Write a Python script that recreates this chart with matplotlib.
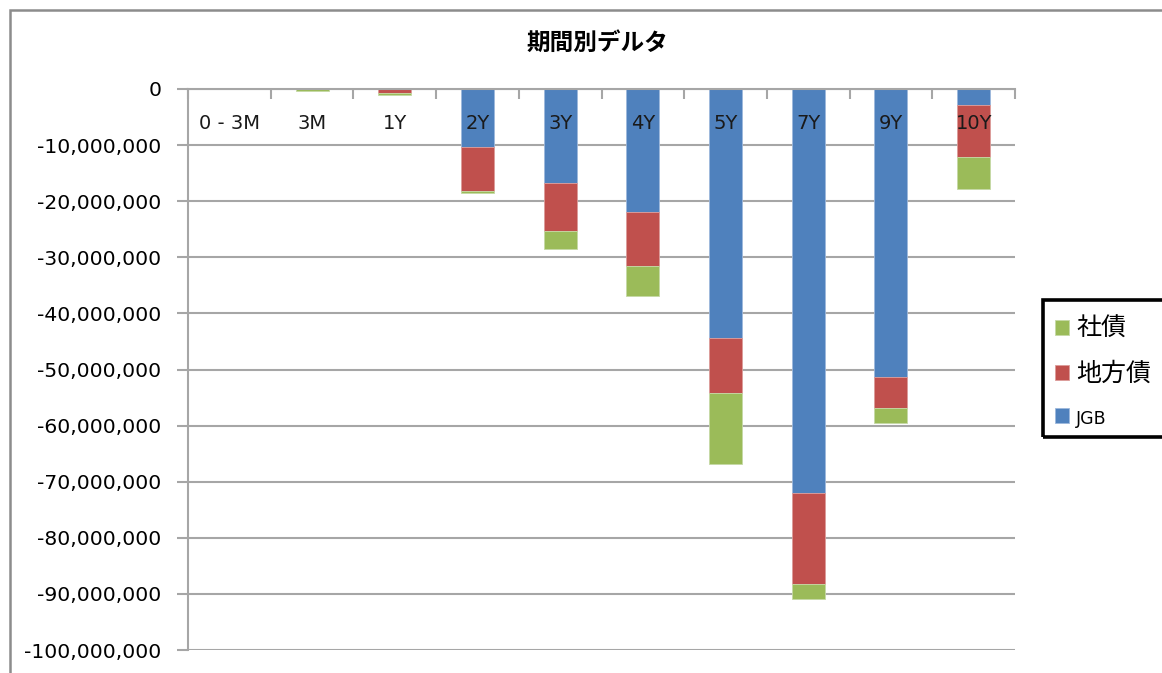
import numpy as np
import matplotlib
matplotlib.use('Agg')
import matplotlib.pyplot as plt
from matplotlib.patches import Rectangle
from matplotlib.ticker import FuncFormatter

plt.rcParams['font.family'] = ['DejaVu Sans', 'Noto Sans CJK JP']

# 期間別デルタ (values in yen, negative)
periods = ['0 - 3M', '3M', '1Y', '2Y', '3Y', '4Y', '5Y', '7Y', '9Y', '10Y']
jgb = [0, 0, 0, -10.3e6, -16.8e6, -21.9e6, -44.3e6, -72.0e6, -51.3e6, -2.85e6]
chihousai = [0, 0, -0.8e6, -7.9e6, -8.5e6, -9.7e6, -9.9e6, -16.3e6, -5.6e6, -9.3e6]
shasai = [0, -0.4e6, -0.3e6, -0.3e6, -3.2e6, -5.3e6, -12.7e6, -2.6e6, -2.6e6, -5.7e6]

blue = '#4F81BD'
red = '#C0504D'
green = '#9BBB59'
grid_gray = '#A6A6A6'

W, H = 1162, 673
fig = plt.figure(figsize=(W / 100, H / 100), dpi=100)
ax = fig.add_axes([188 / W, 1 - 650 / H, 827 / W, 561 / H])

x = np.arange(len(periods))
w = 0.4
jgb = np.array(jgb)
chihousai = np.array(chihousai)
shasai = np.array(shasai)

b1 = ax.bar(x, jgb, w, color=blue, edgecolor='#9DB8DC', linewidth=0.6, label='JGB', zorder=2)
b2 = ax.bar(x, chihousai, w, bottom=jgb, color=red, edgecolor='#DC9C9A', linewidth=0.6,
            label='地方債', zorder=2)
b3 = ax.bar(x, shasai, w, bottom=jgb + chihousai, color=green, edgecolor='#C6D9A6',
            linewidth=0.6, label='社債', zorder=2)

ax.set_xlim(-0.5, len(periods) - 0.5)
ax.set_ylim(-100e6, 0)
ax.set_yticks(np.arange(-100e6, 1, 10e6))
ax.yaxis.set_major_formatter(FuncFormatter(lambda v, p: f'{int(round(v)):,}'))
ax.yaxis.grid(True, color=grid_gray, linewidth=1.5, zorder=0)
ax.tick_params(axis='y', direction='out', length=8, width=1.5, color=grid_gray,
               labelsize=14.6, pad=11)

# category axis sits on the zero line, ticks between categories
ax.xaxis.tick_top()
ax.set_xticks(np.arange(-0.5, len(periods), 1.0))
ax.set_xticklabels([])
ax.tick_params(axis='x', direction='in', length=7, width=1.5, color=grid_gray)
for i, name in enumerate(periods):
    ax.text(i, -6.1e6, name, ha='center', va='center', fontsize=14, color='#1A1A1A', zorder=5)

for s in ['right', 'bottom']:
    ax.spines[s].set_visible(False)
for s in ['left', 'top']:
    ax.spines[s].set_color(grid_gray)
    ax.spines[s].set_linewidth(1.5)

fig.text(597 / W, 1 - 43 / H, '期間別デルタ', ha='center', va='center',
         fontsize=17, fontweight='bold', family=['Noto Sans CJK JP'])

# outer chart border
fig.patches.append(Rectangle((10 / W, -0.1), 2, 1.1 - 10 / H, transform=fig.transFigure,
                             fill=False, edgecolor='#8C8C8C', linewidth=1.8))

# legend box runs off the right edge
fig.patches.append(Rectangle((1043 / W, 1 - 437 / H), 130 / W, 137 / H,
                             transform=fig.transFigure, fill=False, edgecolor='black',
                             linewidth=2.6, zorder=5))
leg = fig.legend(handles=[b3, b2, b1], labels=['社債', '地方債', 'JGB'],
                 loc='upper left', bbox_to_anchor=(1050 / W, 1 - 312 / H),
                 frameon=False, fontsize=18, handlelength=0.55,
                 handleheight=0.55, handletextpad=0.3, labelspacing=0.85,
                 borderpad=0.2, borderaxespad=0)
leg.texts[2].set_fontsize(12.5)

fig.savefig('out.png', dpi=100)
